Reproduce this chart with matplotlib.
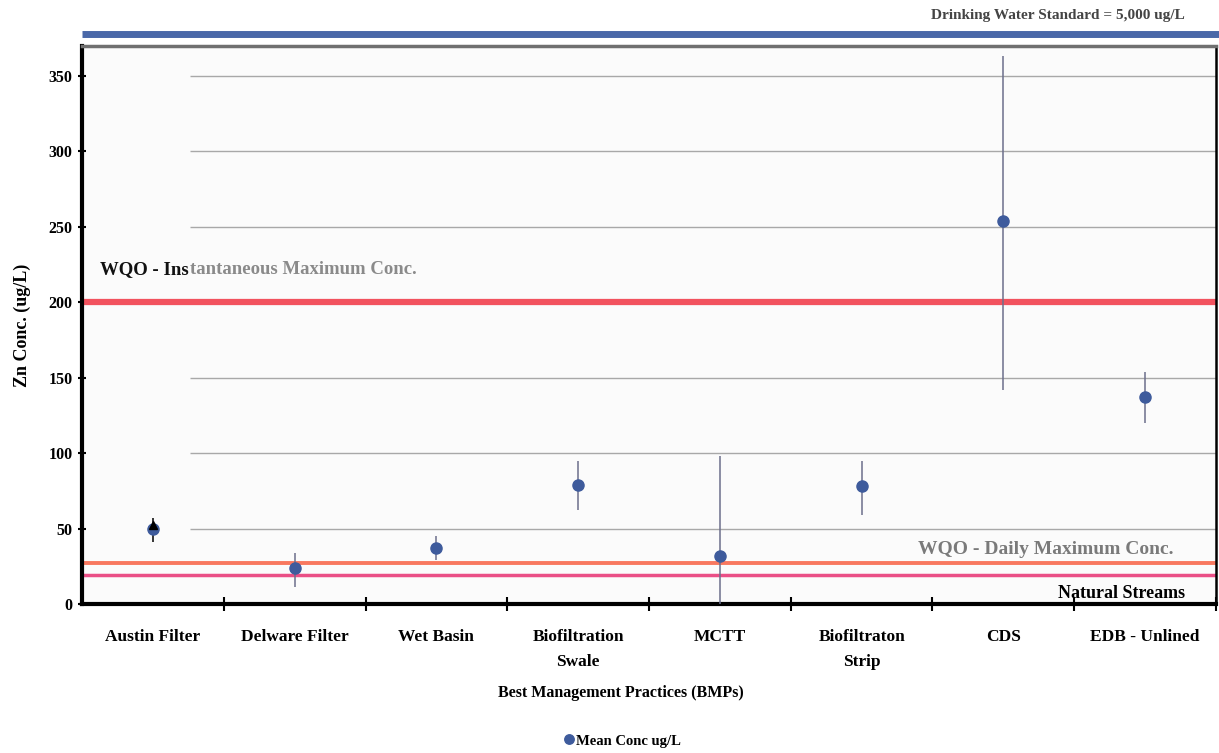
import matplotlib.pyplot as plt

# Zn concentrations by BMP (ug/L)
bmps = ['Austin Filter', 'Delware Filter', 'Wet Basin', 'Biofiltration\nSwale',
        'MCTT', 'Biofiltraton\nStrip', 'CDS', 'EDB - Unlined']
mean_conc = [50, 24, 37, 79, 32, 78, 254, 137]
upper = [57, 34, 45, 95, 98, 95, 363, 154]
lower = [41, 11, 29, 62, -10, 59, 142, 120]

# reference levels
wqo_instant = 200
wqo_daily = 27
natural_streams = 19
drinking_std = 378  # 5,000 ug/L, drawn off-scale above the frame

yticks = [0, 50, 100, 150, 200, 250, 300, 350]

plt.rcParams['font.family'] = ['Liberation Serif', 'DejaVu Serif']
plt.rcParams['font.weight'] = 'bold'

fig = plt.figure(figsize=(12.19, 7.53), dpi=100)
ax = fig.add_axes([0.0673, 0.198, 0.9302, 0.741])
ax.set_facecolor('#fbfbfb')

x = list(range(len(bmps)))
ax.set_xlim(-0.5, len(bmps) - 0.5)
ax.set_ylim(0, 370)

# grid lines (left part of the plot stays blank)
for v in yticks[1:]:
    ax.hlines(v, 0.26, len(bmps) - 0.5, color='#a8a8a8', lw=1.0, zorder=1)

# reference lines
ax.axhline(wqo_instant, color='#f2525e', lw=4.5, zorder=2)
ax.axhline(wqo_daily, color='#f8785f', lw=2.8, zorder=2)
ax.axhline(natural_streams, color='#ea4f86', lw=2.5, zorder=2)
ax.hlines(drinking_std, -0.5, len(bmps) - 0.48, color='#4a68a8', lw=5,
          clip_on=False, zorder=2)

# mean values with min/max range
for xi, m, lo, hi in zip(x, mean_conc, lower, upper):
    c = 'black' if xi == 0 else '#6c6f8c'
    ax.vlines(xi, lo, hi, color=c, lw=1.1, zorder=3)
ax.plot(x, mean_conc, 'o', color='#3e5b9c', ms=8, zorder=4,
        label='Mean Conc ug/L')
ax.plot(x[0], mean_conc[0] + 2, '^', color='black', ms=6, zorder=5)

# labels on the reference lines
ax.text(-0.37, 222, 'WQO - Ins', fontsize=13.5, color='#111111', va='center')
ax.text(0.262, 222, 'tantaneous Maximum Conc.', fontsize=13.5, color='#8a8a8a',
        va='center')
ax.text(5.40, 36, 'WQO - Daily Maximum Conc.', fontsize=14, color='#7a7a7a',
        va='center')
ax.text(7.28, 7, 'Natural Streams', fontsize=13, color='black', ha='right',
        va='center')
ax.text(7.28, 390, 'Drinking Water Standard = 5,000 ug/L', fontsize=11,
        color='#444444', ha='right', va='center')

# axes styling
ax.set_yticks(yticks)
ax.set_yticklabels([str(v) for v in yticks], fontsize=11.5, fontweight='bold')
ax.tick_params(axis='y', direction='inout', length=6, width=1.5, pad=4)
ax.set_xticks(x)
ax.set_xticklabels(bmps, fontsize=12.5, fontweight='bold', va='top',
                   linespacing=1.75)
ax.tick_params(axis='x', which='major', length=0, pad=18)
ax.set_xticks([i + 0.5 for i in x], minor=True)
ax.tick_params(axis='x', which='minor', direction='inout', length=10, width=1.5)

ax.spines['left'].set_linewidth(3)
ax.spines['bottom'].set_linewidth(3)
ax.spines['right'].set_linewidth(1.8)
ax.spines['top'].set_color('#707070')
ax.spines['top'].set_linewidth(2.5)

ax.set_ylabel('Zn Conc. (ug/L)', fontsize=13, fontweight='bold')
ax.yaxis.set_label_coords(-0.045, 0.5)
ax.set_xlabel('Best Management Practices (BMPs)', fontsize=11.5,
              fontweight='bold')
ax.xaxis.set_label_coords(0.475, -0.145)

fig.legend(loc='center', bbox_to_anchor=(0.51, 0.016), frameon=False,
           handletextpad=0.1, markerscale=0.85,
           prop={'size': 10.5, 'weight': 'bold'}, handlelength=0.8)

fig.savefig('out.png', dpi=100)
